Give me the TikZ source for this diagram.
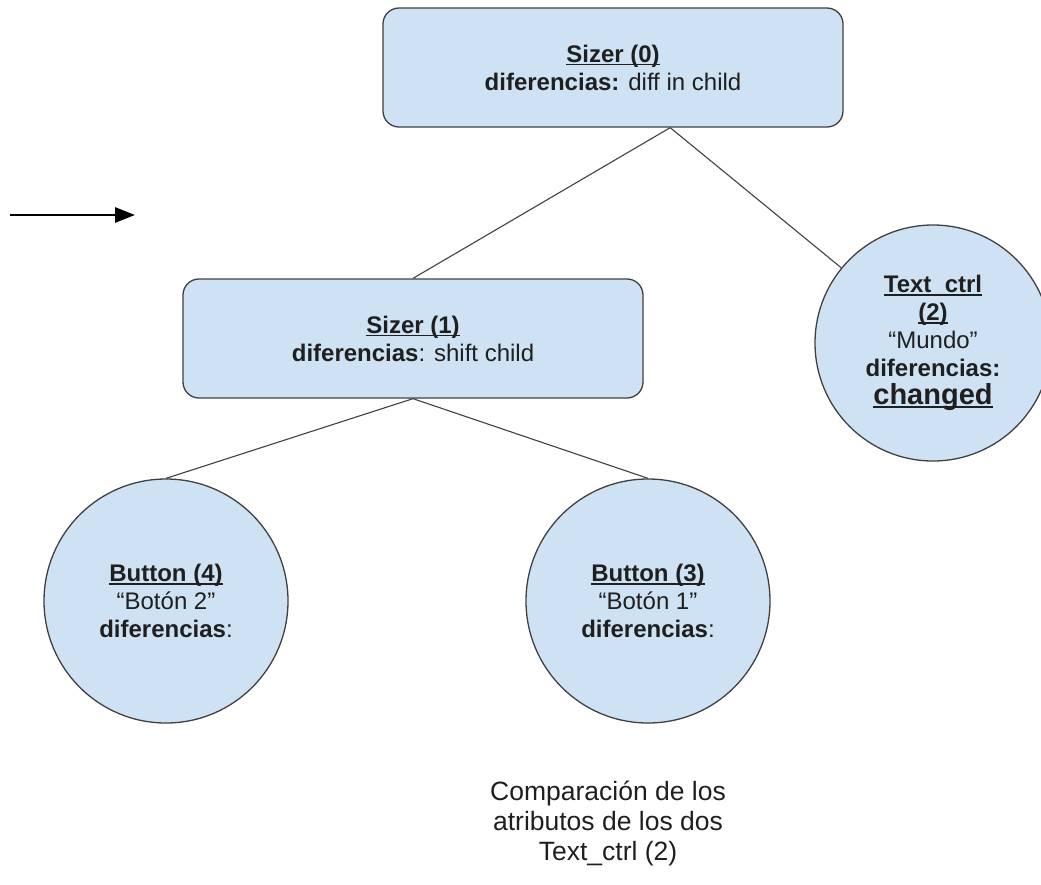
\documentclass[tikz,border=0pt]{standalone}
\usepackage{fontspec}
\setmainfont{Liberation Sans}
\usetikzlibrary{arrows.meta,calc}
\definecolor{boxfill}{HTML}{CFE2F3}
\definecolor{edgegray}{HTML}{404040}
\definecolor{inkgray}{HTML}{1F1F1F}
% underline drawn just below the baseline
\newcommand\tightul[1]{\leavevmode\setbox0\hbox{#1}%
  \rlap{\rule[-3pt]{\wd0}{1.4pt}}\box0}
\begin{document}
\begin{tikzpicture}[x=1pt,y=-1pt,
  nodetext/.style={text=inkgray, font=\fontsize{24}{28}\selectfont},
  sizerbox/.style={draw=edgegray, line width=1.3pt, fill=boxfill,
    rounded corners=16pt, minimum width=460pt, minimum height=119pt,
    align=center, inner sep=0pt, nodetext},
  widget/.style={draw=edgegray, line width=1.3pt, fill=boxfill, circle,
    minimum size=#1, align=center, inner sep=0pt, nodetext},
  link/.style={draw=edgegray, line width=1.1pt},
]
\useasboundingbox (0,0) rectangle (1041,884);

% tree nodes
\node[sizerbox] (s0) at (613,67.5)
  {\tightul{\textbf{Sizer (0)}}\\\textbf{diferencias:} diff in child};
\node[sizerbox] (s1) at (413,338.5)
  {\tightul{\textbf{Sizer (1)}}\\\textbf{diferencias}: shift child};
\node[widget=236pt] (t2) at (933,343)
  {\tightul{\textbf{Text\_ctrl}}\\\tightul{\textbf{(2)}}\\“Mundo”\\\textbf{diferencias:}\\
   {\fontsize{29}{30}\selectfont\tightul{\textbf{changed}}}};
\node[widget=244pt] (b4) at (166,601)
  {\tightul{\textbf{Button (4)}}\\“Botón 2”\\\textbf{diferencias}:};
\node[widget=244pt] (b3) at (648,601)
  {\tightul{\textbf{Button (3)}}\\“Botón 1”\\\textbf{diferencias}:};

% parent-child links
\coordinate (fork) at ($(s0.south west)!0.624!(s0.south east)$);
\draw[link] (fork) -- (s1.north);
\draw[link] (fork) -- (t2);
\draw[link] (s1.south) -- (b4.north);
\draw[link] (s1.south) -- (b3.north);

% pointer arrow
\coordinate (arrowtail) at (10,215);
\coordinate (arrowtip) at (135,215);
\draw[line width=2.8pt, -{Triangle[length=20pt,width=15pt]}] (arrowtail) -- (arrowtip);

% caption
\node[text=inkgray, font=\fontsize{26.5}{30}\selectfont, align=center] (note) at (608,823)
  {Comparación de los\\atributos de los dos\\Text\_ctrl (2)};
\end{tikzpicture}
\end{document}
